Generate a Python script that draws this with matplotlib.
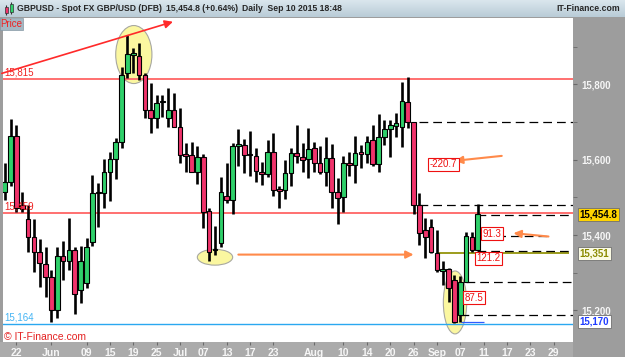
"""GBPUSD daily candles with IT-Finance style annotations."""

import matplotlib

matplotlib.use("Agg")
import matplotlib.pyplot as plt  # noqa: E402
import numpy as np  # noqa: E402
import pandas as pd  # noqa: E402
from matplotlib.patches import Ellipse, Rectangle  # noqa: E402

plt.rcParams["font.family"] = ["Liberation Sans", "DejaVu Sans"]

# --- Data --------------------------------------------------------------

START = "2015-05-20"
N_CANDLES = 82  # last candle = Sep 10 2015

opens = [15515, 15542, 15663, 15480, 15442, 15396, 15354, 15322, 15288, 15201,
         15345, 15332, 15359, 15255, 15272, 15382, 15511, 15511, 15566, 15601,
         15648, 15829, 15878, 15874, 15825, 15732, 15710, 15752, 15710, 15732,
         15686, 15614, 15613, 15568, 15608, 15464, 15360, 15378, 15504, 15493,
         15637, 15639, 15614, 15610, 15568, 15562, 15619, 15520, 15520, 15564,
         15617, 15608, 15601, 15630, 15592, 15568, 15604, 15513, 15500, 15590,
         15586, 15619, 15615, 15651, 15589, 15661, 15681, 15690, 15688, 15754,
         15701, 15480, 15413, 15421, 15351, 15305, 15309, 15281, 15188, 15276,
         15396, 15359]
highs = [15592, 15707, 15691, 15513, 15480, 15442, 15389, 15369, 15307, 15369,
         15383, 15444, 15369, 15371, 15391, 15559, 15539, 15601, 15619, 15657,
         15847, 15931, 15896, 15909, 15829, 15803, 15772, 15772, 15791, 15778,
         15736, 15645, 15646, 15635, 15615, 15471, 15424, 15555, 15592, 15644,
         15681, 15654, 15675, 15630, 15595, 15652, 15672, 15530, 15599, 15630,
         15692, 15645, 15683, 15648, 15637, 15660, 15642, 15551, 15610, 15619,
         15663, 15639, 15663, 15692, 15721, 15705, 15704, 15725, 15807, 15820,
         15701, 15511, 15444, 15442, 15413, 15332, 15312, 15294, 15290, 15409,
         15409, 15482]
lows = [15493, 15529, 15462, 15460, 15356, 15303, 15263, 15236, 15170, 15179,
        15281, 15306, 15191, 15220, 15259, 15371, 15422, 15471, 15489, 15548,
        15630, 15816, 15829, 15812, 15710, 15670, 15683, 15714, 15686, 15686,
        15592, 15568, 15566, 15536, 15418, 15332, 15347, 15369, 15486, 15455,
        15582, 15564, 15557, 15542, 15533, 15553, 15504, 15471, 15495, 15531,
        15592, 15566, 15551, 15568, 15562, 15530, 15471, 15429, 15462, 15557,
        15537, 15577, 15590, 15582, 15566, 15639, 15608, 15659, 15633, 15683,
        15457, 15373, 15338, 15351, 15303, 15267, 15223, 15166, 15170, 15276,
        15356, 15359]
closes = [15542, 15663, 15471, 15468, 15396, 15356, 15327, 15288, 15201, 15345,
          15332, 15359, 15244, 15330, 15369, 15511, 15514, 15566, 15601, 15648,
          15825, 15880, 15883, 15825, 15732, 15710, 15750, 15756, 15732, 15688,
          15613, 15611, 15568, 15608, 15462, 15356, 15362, 15515, 15493, 15637,
          15641, 15613, 15612, 15571, 15562, 15619, 15520, 15518, 15564, 15617,
          15610, 15599, 15628, 15592, 15568, 15604, 15515, 15498, 15590, 15585,
          15617, 15614, 15648, 15589, 15661, 15681, 15692, 15698, 15756, 15701,
          15480, 15405, 15396, 15356, 15307, 15309, 15259, 15170, 15276, 15398,
          15359, 15455]

tick_dates = ["2015-05-22", "2015-06-01", "2015-06-09", "2015-06-15", "2015-06-19",
              "2015-06-25", "2015-07-01", "2015-07-07", "2015-07-13", "2015-07-17",
              "2015-07-23", "2015-08-03", "2015-08-10", "2015-08-14", "2015-08-20",
              "2015-08-26", "2015-09-01", "2015-09-07", "2015-09-11", "2015-09-17",
              "2015-09-23", "2015-09-29"]
tick_labels = ["22", "Jun", "09", "15", "19", "25", "Jul", "07", "13", "17", "23",
               "Aug", "10", "14", "20", "26", "Sep", "07", "11", "17", "23", "29"]

price_ticks = [15200, 15400, 15600, 15800]

# horizontal levels
level_high = 15815
level_mid = 15459
level_low = 15164
level_support = 15351
level_recent_low = 15170
last_price = 15454.8

# measurement tool: (price, start date, end date or None = right edge)
measure_levels = [(15699, "2015-08-27", None), (15480, "2015-08-27", None),
                  (15453, "2015-09-10", None), (15398, "2015-09-11", "2015-09-28"),
                  (15358, "2015-09-10", None), (15276, "2015-09-08", None),
                  (15188, "2015-09-07", None)]
measure_labels = [("-220.7", "2015-08-31", 15588), ("91.3", "2015-09-11", 15403),
                  ("121.2", "2015-09-10", 15338), ("87.5", "2015-09-08", 15233)]

# --- Style ------------------------------------------------------------

GREEN = "#2fd06a"
RED = "#f0336b"
AX_GRAY = "#9d9d9d"
ORANGE = "#ff8a4a"

days = pd.bdate_range(START, "2015-10-09")
pos = {d.strftime("%Y-%m-%d"): i for i, d in enumerate(days)}
x = np.arange(N_CANDLES)

W, H = 625, 357
fig = plt.figure(figsize=(W / 100, H / 100), dpi=100, facecolor=AX_GRAY)

# bottom band (slightly lighter than the price band), behind the axes
fig.patches.append(Rectangle((0, 0), 573 / W, 15 / H, transform=fig.transFigure,
                             facecolor="#ababab", edgecolor="none", zorder=-5))

# plot region in pixels: x 3..573, y 18..342
ax = fig.add_axes([3 / W, 15 / H, 570 / W, 324 / H])
ax.set_facecolor("white")
ax.set_xlim(-0.3, 97.3)
ax.set_ylim(15116, 15976)

# --- Candles ------------------------------------------------------------
o = np.array(opens, float)
c = np.array(closes, float)
body_lo = np.minimum(o, c)
body_h = np.maximum(np.abs(c - o), 4)
colors = [GREEN if cc >= oo else RED for oo, cc in zip(o, c)]
ax.vlines(x, lows, highs, color="black", lw=1.9, zorder=4)
ax.bar(x, body_h, bottom=body_lo, width=0.8, color=colors, edgecolor="black",
       linewidth=0.8, zorder=5)

# --- Highlight ellipses --------------------------------------------------
for cx, cy, ew, eh in [(22.1, 15879, 6.2, 154), (36.0, 15341, 6.05, 42),
                       (77.1, 15221, 4.0, 167)]:
    ax.add_patch(Ellipse((cx, cy), ew, eh, facecolor="#fbf7a0", edgecolor="#a8a8a0",
                         lw=0.8, zorder=1))

# --- Levels ------------------------------------------------------------
ax.axhline(level_high, color="#ff7070", lw=1.4, zorder=2)
ax.axhline(level_mid, color="#ff7070", lw=1.4, zorder=2)
ax.axhline(level_low, color="#2aa8f0", lw=1.0, zorder=2)
ax.hlines(level_support, pos["2015-09-01"], pos["2015-10-01"] + 0.6,
          color="#9c9c1c", lw=1.4, zorder=3)
ax.hlines(level_recent_low, pos["2015-09-07"] + 0.2, pos["2015-09-11"] + 0.1,
          color="#2f5cff", lw=0.9, zorder=3)

for price, d0, d1 in measure_levels:
    x0 = pos[d0] - 0.1
    x1 = 97.3 if d1 is None else pos[d1] + 0.4
    ax.hlines(price, x0, x1, color="black", lw=0.9, linestyles=(0, (7, 4)), zorder=3)

for text, d, price in measure_labels:
    ax.text(pos[d] - 0.2, price, text, fontsize=7, color="#ee1111", ha="left",
            va="center", zorder=7,
            bbox=dict(boxstyle="square,pad=0.15", facecolor="white", edgecolor="#ee1111",
                      lw=0.8))

# left level labels
ax.text(0.0, level_high + 4, "15,815", color="#ee2222", fontsize=7, va="bottom", zorder=6)
ax.text(0.0, level_mid + 4, "15,459", color="#ee2222", fontsize=7, va="bottom", zorder=6)
ax.text(0.0, level_low + 4, "15,164", color="#44b4f4", fontsize=7, va="bottom", zorder=6)
ax.text(-0.1, 15128, "\u00a9 IT-Finance.com", color="#e42222", fontsize=7.5,
        va="center", zorder=6)

# --- Arrows ------------------------------------------------------------
ax.annotate("", xy=(28.8, 15966), xytext=(-0.5, 15829),
            arrowprops=dict(arrowstyle="-|>", color="#ff2a2a", lw=1.2, mutation_scale=12,
                            shrinkA=0, shrinkB=0), zorder=6)
for (xt, yt), (xh, yh) in [((85.1, 15610), (77.1, 15597)),
                           ((93.1, 15396), (87.1, 15405)),
                           ((40.0, 15348), (70.0, 15348))]:
    ax.annotate("", xy=(xh, yh), xytext=(xt, yt),
                arrowprops=dict(arrowstyle="-|>", color=ORANGE, lw=1.5, mutation_scale=11,
                                shrinkA=0, shrinkB=0), zorder=6)

# --- Axes ------------------------------------------------------------
for s in ax.spines.values():
    s.set_visible(False)
ax.yaxis.tick_right()
ax.set_yticks(price_ticks)
ax.set_yticklabels([f"{p:,}" for p in price_ticks])
ax.set_yticks([15300, 15500, 15700, 15900], minor=True)
ax.tick_params(axis="y", which="both", direction="out", length=3, color="#6a6a6a",
               pad=3, labelsize=7, labelcolor="#f6f6f6")
ax.set_xticks([pos[d] for d in tick_dates])
ax.set_xticklabels(tick_labels)
ax.tick_params(axis="x", direction="out", length=2.5, color="#6a6a6a", pad=1.5,
               labelsize=7.5, labelcolor="#f6f6f6")
for lab in ax.get_xticklabels() + ax.get_yticklabels():
    lab.set_fontweight("bold")

# boxed price markers on the right axis
trans = ax.get_yaxis_transform()
for price, text, fc, tc in [(last_price, "15,454.8", "#ffd400", "black"),
                            (level_support, "15,351", "#fbfbe4", "#8a8a00"),
                            (level_recent_low, "15,170", "white", "#1f3cff")]:
    ax.text(1.012, price, text, transform=trans, fontsize=7, color=tc, ha="left",
            va="center", fontweight="bold", clip_on=False, zorder=8,
            bbox=dict(boxstyle="square,pad=0.18", facecolor=fc, edgecolor="#707070",
                      lw=0.6))

# --- Header ------------------------------------------------------------
hd = fig.add_axes([0, 1 - 17 / H, 1, 17 / H])
hd.set_xlim(0, W)
hd.set_ylim(17, 0)
hd.axis("off")
grad = np.linspace(0, 1, 20)[:, None]
hd.imshow(grad, aspect="auto", extent=(0, W, 17, 0), zorder=0,
          cmap=matplotlib.colors.LinearSegmentedColormap.from_list(
              "hdr", ["#dae6ed", "#b9ccd7"]))
hd.vlines([6, 11], [5, 2], [15, 14], color="#333333", lw=0.8, zorder=1)
hd.add_patch(Rectangle((4.5, 7), 3, 6, facecolor=RED, edgecolor="#333", lw=0.5, zorder=2))
hd.add_patch(Rectangle((9.5, 4), 3, 8, facecolor=GREEN, edgecolor="#333", lw=0.5, zorder=2))
hfont = dict(fontsize=6.2, fontweight="bold", color="#262626", va="center")
hd.text(17, 8.5, "GBPUSD - Spot FX GBP/USD (DFB)", **hfont)
hd.text(166, 8.5, "15,454.8 (+0.64%)", **hfont)
hd.text(242, 8.5, "Daily  Sep 10 2015 18:48", **hfont)
hd.text(620, 8.5, "IT-Finance.com", ha="right", **hfont)

# "Price" tag
fig.patches.append(Rectangle((0, 1 - 30 / H), 23 / W, 12 / H, transform=fig.transFigure,
                             facecolor="#a4b7c3", edgecolor="#8598a5", lw=0.5, zorder=5))
fig.text(11.5 / W, 1 - 24 / H, "Price", color="#ee2222", fontsize=7, ha="center",
         va="center", zorder=6)

fig.savefig("out.png", dpi=100, facecolor=fig.get_facecolor())
